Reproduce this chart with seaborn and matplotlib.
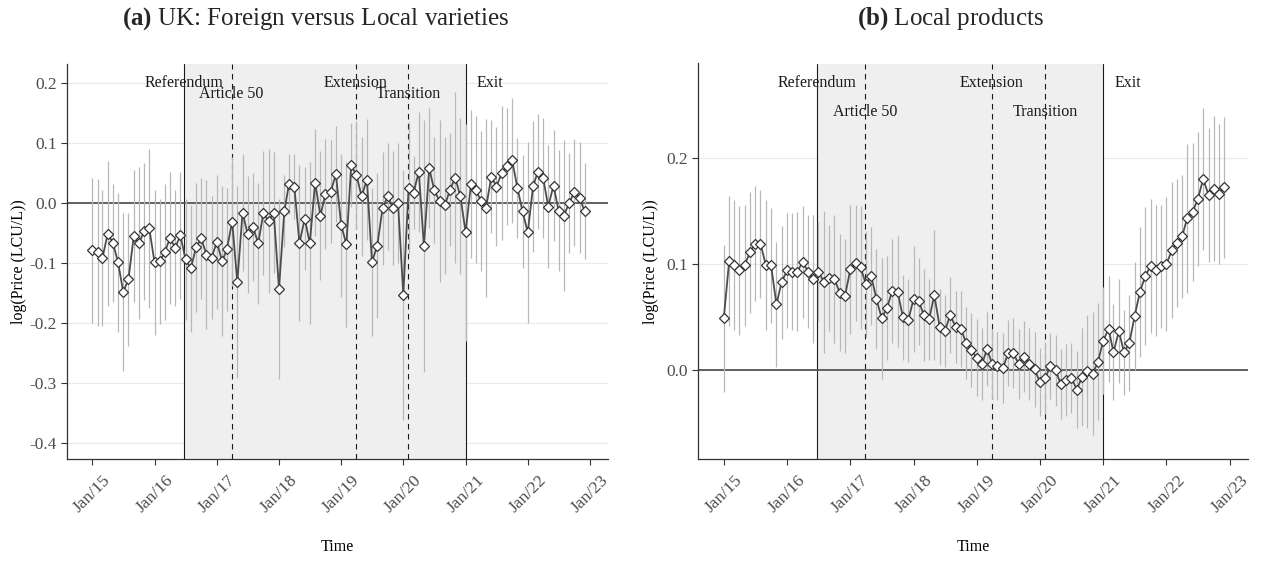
import numpy as np
import pandas as pd
import matplotlib
matplotlib.use("Agg")
import matplotlib.pyplot as plt
import matplotlib.dates as mdates
import seaborn as sns

# ---------------- data ----------------
months = pd.date_range("2015-01-01", periods=96, freq="MS")

foreign_vs_local = [
    -0.079, -0.082, -0.092, -0.051, -0.066, -0.099, -0.148, -0.127, -0.055, -0.067, -0.047, -0.042,
    -0.099, -0.097, -0.082, -0.058, -0.075, -0.054, -0.094, -0.109, -0.074, -0.059, -0.086, -0.091,
    -0.065, -0.097, -0.077, -0.031, -0.132, -0.016, -0.052, -0.040, -0.067, -0.017, -0.030, -0.016,
    -0.143, -0.014, 0.032, 0.027, -0.067, -0.026, -0.067, 0.034, -0.021, 0.015, 0.019, 0.048,
    -0.037, -0.069, 0.063, 0.046, 0.011, 0.039, -0.098, -0.071, -0.009, 0.011, -0.008, 0.000,
    -0.153, 0.025, 0.017, 0.052, -0.072, 0.058, 0.021, 0.003, -0.004, 0.022, 0.042, 0.011,
    -0.049, 0.031, 0.022, 0.003, -0.008, 0.044, 0.027, 0.050, 0.061, 0.071, 0.025, -0.014,
    -0.049, 0.028, 0.052, 0.042, -0.006, 0.029, -0.013, -0.021, 0.000, 0.018, 0.009, -0.014,
]
foreign_vs_local_ci = [
    0.121, 0.122, 0.113, 0.120, 0.098, 0.115, 0.132, 0.111, 0.109, 0.126, 0.114, 0.132,
    0.120, 0.104, 0.113, 0.110, 0.097, 0.105, 0.101, 0.105, 0.108, 0.100, 0.124, 0.102,
    0.112, 0.125, 0.102, 0.107, 0.160, 0.098, 0.097, 0.090, 0.101, 0.103, 0.119, 0.100,
    0.150, 0.060, 0.050, 0.054, 0.130, 0.086, 0.135, 0.089, 0.108, 0.091, 0.086, 0.080,
    0.119, 0.137, 0.070, 0.090, 0.099, 0.100, 0.123, 0.121, 0.094, 0.089, 0.095, 0.100,
    0.208, 0.110, 0.061, 0.100, 0.210, 0.100, 0.088, 0.135, 0.114, 0.094, 0.142, 0.130,
    0.180, 0.123, 0.122, 0.117, 0.148, 0.094, 0.099, 0.111, 0.097, 0.104, 0.083, 0.094,
    0.151, 0.109, 0.096, 0.100, 0.102, 0.093, 0.101, 0.125, 0.083, 0.089, 0.092, 0.080,
]
local_products = [
    0.049, 0.103, 0.099, 0.094, 0.099, 0.111, 0.119, 0.119, 0.099, 0.099, 0.062, 0.083,
    0.094, 0.093, 0.093, 0.102, 0.093, 0.086, 0.093, 0.083, 0.087, 0.086, 0.073, 0.070,
    0.095, 0.101, 0.097, 0.081, 0.089, 0.067, 0.049, 0.059, 0.075, 0.074, 0.050, 0.047,
    0.067, 0.065, 0.052, 0.048, 0.071, 0.041, 0.037, 0.052, 0.041, 0.039, 0.026, 0.019,
    0.012, 0.006, 0.020, 0.006, 0.004, 0.002, 0.016, 0.016, 0.006, 0.013, 0.006, 0.001,
    -0.011, -0.007, 0.004, 0.000, -0.013, -0.009, -0.007, -0.018, -0.006, -0.001, -0.003, 0.008,
    0.028, 0.039, 0.017, 0.037, 0.017, 0.026, 0.051, 0.074, 0.089, 0.098, 0.094, 0.098,
    0.100, 0.113, 0.120, 0.126, 0.143, 0.149, 0.161, 0.180, 0.165, 0.171, 0.166, 0.172,
]
local_products_ci = [
    0.069, 0.061, 0.061, 0.061, 0.057, 0.057, 0.054, 0.051, 0.061, 0.054, 0.059, 0.053,
    0.054, 0.055, 0.056, 0.053, 0.053, 0.060, 0.047, 0.067, 0.050, 0.060, 0.055, 0.054,
    0.061, 0.055, 0.058, 0.050, 0.046, 0.047, 0.057, 0.049, 0.049, 0.052, 0.040, 0.039,
    0.050, 0.041, 0.043, 0.038, 0.061, 0.036, 0.034, 0.036, 0.034, 0.036, 0.034, 0.035,
    0.036, 0.034, 0.035, 0.033, 0.032, 0.033, 0.031, 0.033, 0.033, 0.033, 0.034, 0.035,
    0.032, 0.034, 0.031, 0.033, 0.033, 0.034, 0.033, 0.036, 0.046, 0.053, 0.058, 0.055,
    0.050, 0.050, 0.045, 0.049, 0.040, 0.045, 0.051, 0.061, 0.065, 0.063, 0.062, 0.058,
    0.063, 0.064, 0.060, 0.058, 0.070, 0.065, 0.063, 0.067, 0.063, 0.068, 0.066, 0.066,
]

event_names = ["Referendum", "Article 50", "Extension", "Transition", "Exit"]
event_dates = ["2016-06-23", "2017-03-29", "2019-03-29", "2020-01-31", "2021-01-01"]
event_solid = [True, False, False, False, True]
event_label_dates = ["2016-06-23", "2017-03-29", "2019-03-29", "2020-01-31", "2021-05-25"]
label_levels_a = [0.200, 0.181, 0.200, 0.181, 0.200]
label_levels_b = [0.270, 0.243, 0.270, 0.243, 0.270]

tick_years = list(range(2015, 2024))
tick_labels = ["Jan/15", "Jan/16", "Jan/17", "Jan/18", "Jan/19",
               "Jan/20", "Jan/21", "Jan/22", "Jan/23"]

titles = [r"$\mathbf{(a)}$ UK: Foreign versus Local varieties",
          r"$\mathbf{(b)}$ Local products"]

# ---------------- style ----------------
sns.set_theme(style="white")
plt.rcParams["font.family"] = ["Liberation Serif", "DejaVu Serif"]
plt.rcParams["mathtext.fontset"] = "custom"
plt.rcParams["mathtext.rm"] = "Liberation Serif"
plt.rcParams["mathtext.bf"] = "Liberation Serif:bold"
plt.rcParams["axes.unicode_minus"] = False

fig = plt.figure(figsize=(12.63, 5.64), dpi=100)
W, H = 1263, 564
ax_a = fig.add_axes([67 / W, 1 - 459 / H, 541 / W, (459 - 63.5) / H])
ax_b = fig.add_axes([698 / W, 1 - 459 / H, 550 / W, (459 - 63.5) / H])

panels = [
    (ax_a, foreign_vs_local, foreign_vs_local_ci, (-0.426, 0.232),
     [-0.4, -0.3, -0.2, -0.1, 0.0, 0.1, 0.2], label_levels_a, 1.5),
    (ax_b, local_products, local_products_ci, (-0.0833, 0.2886),
     [0.0, 0.1, 0.2], label_levels_b, 5),
]

xlim = (pd.Timestamp("2014-08-05"), pd.Timestamp("2023-04-17"))
ev_dates = pd.to_datetime(event_dates)
ev_label_dates = pd.to_datetime(event_label_dates)

for ax, vals, ci, ylim, yticks, levels, ypad in panels:
    df = pd.DataFrame({"Time": months, "value": vals, "ci": ci})
    df["lo"] = df["value"] - df["ci"]
    df["hi"] = df["value"] + df["ci"]

    ax.set_facecolor("white")
    ax.set_axisbelow(True)
    ax.yaxis.grid(True, color="#EBEBEB", linewidth=0.9)
    ax.xaxis.grid(False)

    # shaded Brexit period
    ax.axvspan(ev_dates[0], ev_dates[-1], color="#EFEFEF", zorder=1, linewidth=0)

    # event lines
    for d, solid in zip(ev_dates, event_solid):
        ax.axvline(d, color="#1A1A1A", linewidth=0.8,
                   linestyle="-" if solid else (0, (5, 4)), zorder=2)

    # zero line
    ax.axhline(0, color="#555555", linewidth=1.3, zorder=2)

    # error bars
    ax.vlines(df["Time"], df["lo"], df["hi"], color="#B8B8B8", linewidth=0.9, zorder=3)

    # line with diamonds
    sns.lineplot(data=df, x="Time", y="value", ax=ax, color="#4D4D4D",
                 linewidth=1.3, marker="D", markersize=4.8,
                 markerfacecolor="white", markeredgecolor="#333333",
                 markeredgewidth=0.9, zorder=4)

    # event labels
    for name, d, lvl in zip(event_names, ev_label_dates, levels):
        ax.text(d, lvl, name, ha="center", va="center", fontsize=11.5,
                color="#1A1A1A", zorder=5)

    ax.set_xlim(*xlim)
    ax.set_ylim(*ylim)
    ax.set_xticks([pd.Timestamp(f"{y}-01-01") for y in tick_years])
    ax.set_xticklabels(tick_labels, rotation=45, ha="center", va="center",
                       rotation_mode="anchor", fontsize=12.5, color="#4D4D4D")
    ax.set_yticks(yticks)
    ax.set_yticklabels([f"{t:.1f}" for t in yticks], fontsize=12.5, color="#4D4D4D")
    ax.tick_params(axis="both", which="both", direction="out", length=4,
                   width=0.8, color="#333333", bottom=True, left=True)
    ax.tick_params(axis="x", pad=21)
    for side in ["top", "right"]:
        ax.spines[side].set_visible(False)
    for side in ["left", "bottom"]:
        ax.spines[side].set_color("#333333")
        ax.spines[side].set_linewidth(0.9)

    ax.set_xlabel("Time", fontsize=11.5, color="black", labelpad=17)
    ax.set_ylabel("log(Price (LCU/L))", fontsize=11.5, color="black", labelpad=ypad)

for title, tx in zip(titles, [316, 951]):
    fig.text(tx / W, 1 - 19 / H, title, ha="center", va="center", fontsize=18)

fig.savefig("out.png", dpi=100)
